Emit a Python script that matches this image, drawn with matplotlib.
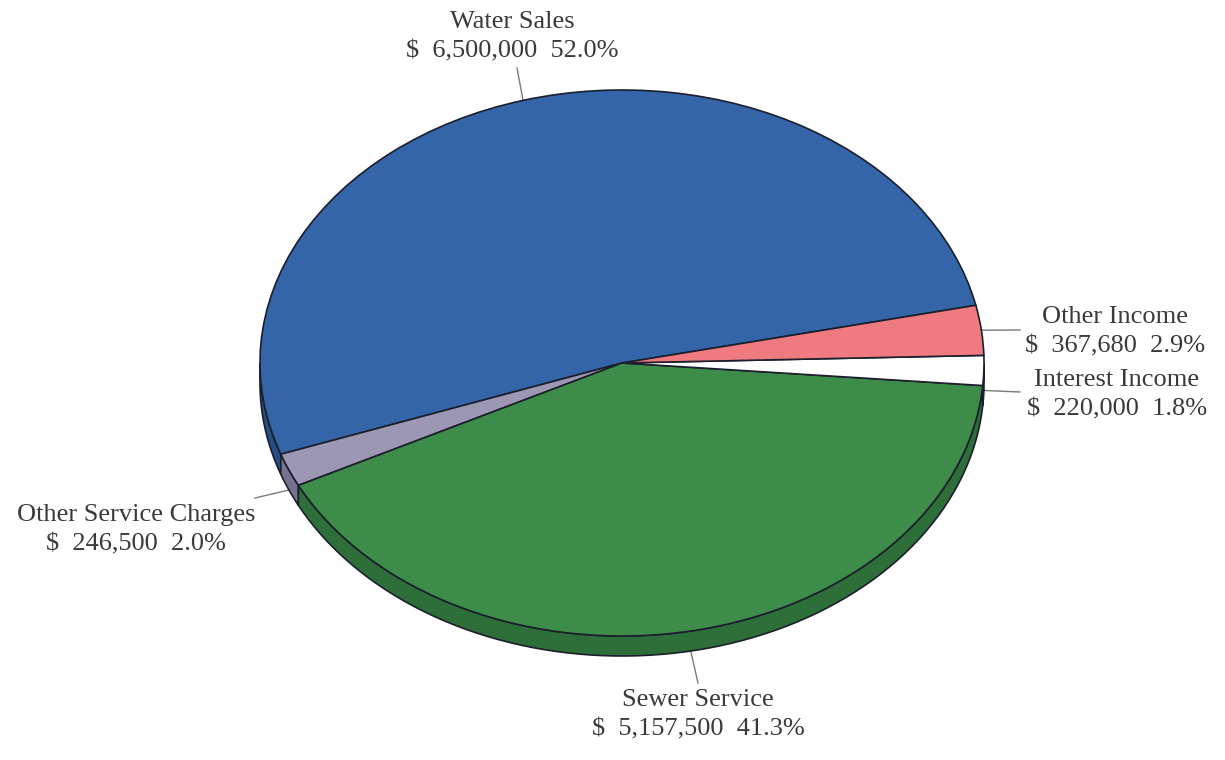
import numpy as np
import matplotlib
matplotlib.use("Agg")
import matplotlib.pyplot as plt
from matplotlib.patches import Polygon

# Revenue sources (counter-clockwise order, starting at the upper right)
categories = ["Water Sales", "Other Service Charges", "Sewer Service",
              "Interest Income", "Other Income"]
amounts = [6500000, 246500, 5157500, 220000, 367680]
top_colors = ["#3465a8", "#9c98b4", "#3d8c49", "#ffffff", "#ef7b81"]
side_colors = ["#274e85", "#77738f", "#2e6e39", "#d9d9d9", "#c45f66"]

# label layout in pixels: text centre, end of leader line
label_pos = {
    "Water Sales": ((512, 37), (517, 68)),
    "Other Income": ((1115, 332), (1020, 330)),
    "Interest Income": ((1117, 395), (1020, 392)),
    "Other Service Charges": ((136, 530), (255, 498)),
    "Sewer Service": ((698, 715), (698, 683)),
}

W, H = 1225, 760
CX, CY = 622, 363       # pie centre in pixels
RX, RY = 362, 273       # ellipse semi axes in pixels
DEPTH = 20 / RY         # thickness of the pie in data units
EDGE = "#1b1e2b"

plt.rcParams["font.family"] = ["Liberation Serif", "DejaVu Serif"]

fig = plt.figure(figsize=(W / 100, H / 100), dpi=100)
ax = fig.add_axes([0, 0, 1, 1])


def px(x, y):
    return (x - CX) / RX, (CY - y) / RY


wedges, _ = ax.pie(amounts, colors=top_colors, startangle=12.2,
                   counterclock=True, radius=1,
                   wedgeprops=dict(edgecolor=EDGE, linewidth=1.2, zorder=3))

# side of the pie, visible on the front half only
for w, sc in zip(wedges, side_colors):
    for lo, hi in [(180, 360), (540, 720), (-180, 0)]:
        a = max(w.theta1, lo)
        b = min(w.theta2, hi)
        if b <= a:
            continue
        t = np.radians(np.linspace(a, b, 80))
        top = np.column_stack([np.cos(t), np.sin(t)])
        bot = np.column_stack([np.cos(t), np.sin(t) - DEPTH])[::-1]
        ax.add_patch(Polygon(np.vstack([top, bot]), closed=True,
                             facecolor=sc, edgecolor=EDGE, linewidth=1.2,
                             zorder=2))

total = sum(amounts)
for w, name, amt in zip(wedges, categories, amounts):
    mid = np.radians((w.theta1 + w.theta2) / 2)
    sx, sy = np.cos(mid), np.sin(mid)
    if sy < 0:
        sy -= DEPTH
    (tx, ty), (ex, ey) = label_pos[name]
    ex, ey = px(ex, ey)
    ax.plot([sx, ex], [sy, ey], color="#7a7a7a", linewidth=1, zorder=1)
    txt = f"{name}\n$  {amt:,.0f}  {amt / total * 100:.1f}%"
    ax.text(*px(tx, ty), txt, ha="center", va="center", fontsize=19,
            color="#3a3a3a", linespacing=1.45)

ax.set_aspect("auto")
ax.set_xlim(-CX / RX, (W - CX) / RX)
ax.set_ylim(-(H - CY) / RY, CY / RY)
ax.axis("off")

fig.savefig("out.png", dpi=100, facecolor="white")
